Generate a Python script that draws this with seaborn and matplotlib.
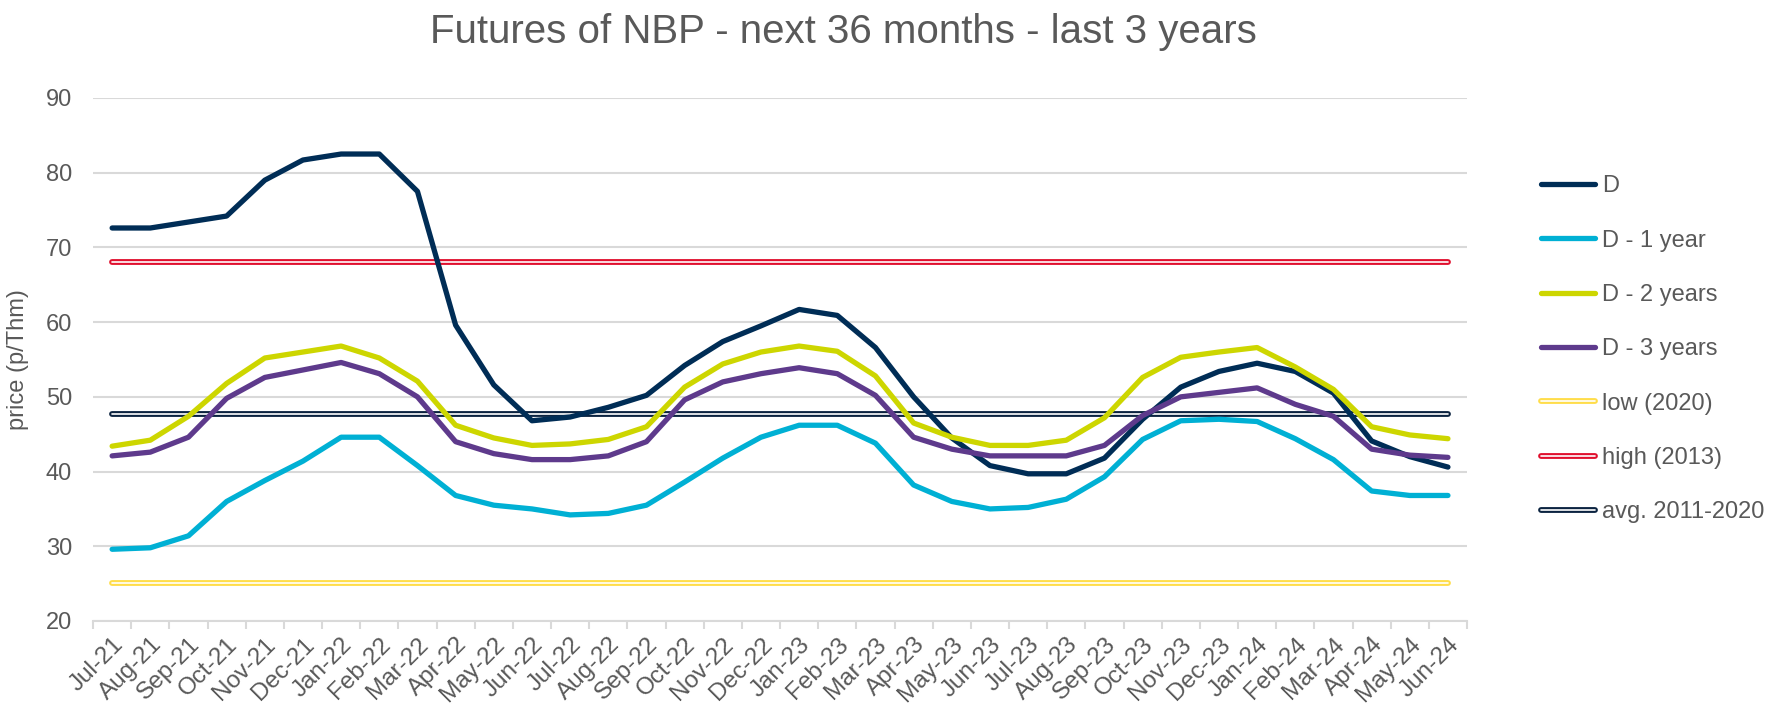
import numpy as np
import pandas as pd
import matplotlib
matplotlib.use("Agg")
import matplotlib.pyplot as plt
import matplotlib.patheffects as pe
import seaborn as sns

months = ['Jul-21', 'Aug-21', 'Sep-21', 'Oct-21', 'Nov-21', 'Dec-21',
          'Jan-22', 'Feb-22', 'Mar-22', 'Apr-22', 'May-22', 'Jun-22',
          'Jul-22', 'Aug-22', 'Sep-22', 'Oct-22', 'Nov-22', 'Dec-22',
          'Jan-23', 'Feb-23', 'Mar-23', 'Apr-23', 'May-23', 'Jun-23',
          'Jul-23', 'Aug-23', 'Sep-23', 'Oct-23', 'Nov-23', 'Dec-23',
          'Jan-24', 'Feb-24', 'Mar-24', 'Apr-24', 'May-24', 'Jun-24']

d_now = [72.6, 72.6, 73.4, 74.2, 79.0, 81.7, 82.5, 82.5, 77.5, 59.6, 51.6, 46.8,
         47.3, 48.6, 50.2, 54.2, 57.4, 59.5, 61.7, 60.9, 56.6, 50.0, 44.5, 40.8,
         39.7, 39.7, 41.8, 47.0, 51.3, 53.4, 54.5, 53.4, 50.5, 44.1, 42.0, 40.6]
d_1y = [29.6, 29.8, 31.4, 36.0, 38.8, 41.4, 44.6, 44.6, 40.8, 36.8, 35.5, 35.0,
        34.2, 34.4, 35.5, 38.6, 41.8, 44.6, 46.2, 46.2, 43.8, 38.2, 36.0, 35.0,
        35.2, 36.3, 39.3, 44.3, 46.8, 47.0, 46.7, 44.4, 41.6, 37.4, 36.8, 36.8]
d_2y = [43.4, 44.2, 47.4, 51.8, 55.2, 56.0, 56.8, 55.2, 52.1, 46.2, 44.5, 43.5,
        43.7, 44.3, 46.0, 51.3, 54.4, 56.0, 56.8, 56.1, 52.8, 46.5, 44.6, 43.5,
        43.5, 44.2, 47.2, 52.6, 55.3, 56.0, 56.6, 54.0, 51.0, 46.0, 44.9, 44.4]
d_3y = [42.1, 42.6, 44.6, 49.8, 52.6, 53.6, 54.6, 53.1, 50.0, 44.0, 42.4, 41.6,
        41.6, 42.1, 44.0, 49.6, 52.0, 53.1, 53.9, 53.1, 50.2, 44.6, 43.0, 42.1,
        42.1, 42.1, 43.5, 47.5, 50.0, 50.6, 51.2, 49.0, 47.4, 43.0, 42.2, 41.9]

low_2020 = 25.1
high_2013 = 68.0
avg_2011_2020 = 47.7

series_names = ['D', 'D - 1 year', 'D - 2 years', 'D - 3 years']
series_colors = ['#002D56', '#00B0D4', '#CDD600', '#5E3A8C']
ref_names = ['low (2020)', 'high (2013)', 'avg. 2011-2020']
ref_values = [low_2020, high_2013, avg_2011_2020]
ref_colors = ['#FFDD4A', '#E0102E', '#0B2340']

text_color = '#595959'
grid_color = '#D9D9D9'

sns.set_theme(style="white")
plt.rcParams['font.family'] = ['Liberation Sans', 'DejaVu Sans']

x = np.arange(len(months))
df = pd.DataFrame({
    'x': np.tile(x, 4),
    'price': d_now + d_1y + d_2y + d_3y,
    'series': np.repeat(series_names, len(months)),
})

fig = plt.figure(figsize=(17.69, 7.06), dpi=100)
ax = fig.add_axes([0.0526, 0.1204, 0.7767, 0.7408])

sns.lineplot(data=df, x='x', y='price', hue='series', hue_order=series_names,
             palette=series_colors, linewidth=3.8, ax=ax, legend=False,
             solid_joinstyle='round', solid_capstyle='round')

# reference lines, drawn as double lines like the original
for name, val, col in zip(ref_names, ref_values, ref_colors):
    ax.plot([x[0], x[-1]], [val, val], color='white', lw=1.2,
            solid_capstyle='round', zorder=1.5,
            path_effects=[pe.withStroke(linewidth=4.2, foreground=col)],
            label=name)

ax.set_xlim(-0.5, len(months) - 0.5)
ax.set_ylim(20, 90)
ax.set_yticks(range(20, 91, 10))
ax.yaxis.grid(True, color=grid_color, lw=1.5)
ax.set_axisbelow(True)

ax.set_xticks(x)
ax.set_xticklabels(months, rotation=45, ha='right', rotation_mode='anchor')
ax.set_xticks(np.arange(-0.5, len(months), 1), minor=True)
ax.tick_params(axis='x', which='major', length=0, pad=9, labelsize=17.5, labelcolor=text_color)
ax.tick_params(axis='x', which='minor', length=6, width=1.5, color=grid_color, bottom=True)
ax.tick_params(axis='y', length=0, labelsize=17, labelcolor=text_color, pad=15)
ax.set_xlabel('')
ax.set_ylabel('price (p/Thm)', fontsize=17, color=text_color, labelpad=12)

for s in ['top', 'right', 'left']:
    ax.spines[s].set_visible(False)
ax.spines['bottom'].set_color(grid_color)
ax.spines['bottom'].set_linewidth(1.5)

fig.text(0.477, 0.955, 'Futures of NBP - next 36 months - last 3 years',
         fontsize=29, color=text_color, ha='center', va='center')

handles = [plt.Line2D([], [], color=c, lw=3.8, solid_capstyle='round') for c in series_colors]
ref_handles = ax.get_lines()[-3:]
fig.legend(handles + ref_handles, series_names + ref_names,
           loc='upper left', bbox_to_anchor=(0.859, 0.782), frameon=False,
           fontsize=17, labelcolor=text_color, handlelength=2.3,
           handletextpad=0.3, labelspacing=1.37)

fig.savefig('out.png', dpi=100)
